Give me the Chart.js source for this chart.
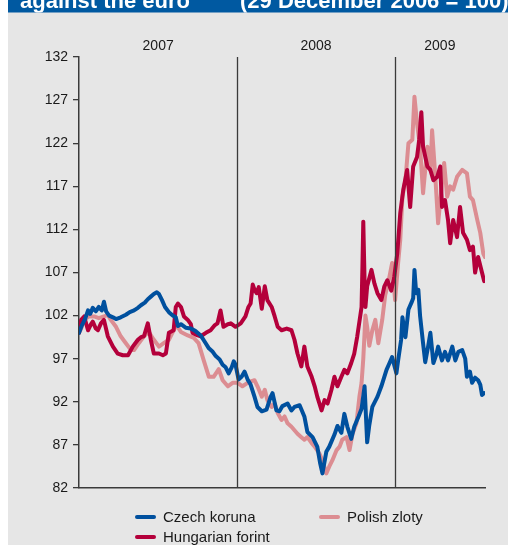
<!DOCTYPE html>
<html>
<head>
<meta charset="utf-8">
<script src="https://cdn.jsdelivr.net/npm/chart.js@4.4.1/dist/chart.umd.min.js"></script>
<style>
    html, body { margin: 0; padding: 0; background: #ffffff; overflow: hidden; }
    #wrap { position: relative; width: 508px; height: 545px; }
</style>
</head>
<body>
<div id="wrap"><canvas id="fxChart"></canvas></div>
<script>
// Exchange rates against the euro, 29 Dec 2006 = 100
// x = days since 29 December 2006
const czkDays = [0, 7, 14, 21, 26, 32, 39, 46, 53, 58, 63, 70, 79, 86, 97, 109, 118, 128, 137, 144, 153, 160, 167, 174, 181, 186, 193, 200, 209, 218, 225, 230, 237, 248, 260, 271, 283, 292, 302, 311, 318, 327, 334, 341, 348, 355, 360, 364, 371, 378, 385, 392, 399, 408, 415, 425, 436, 445, 450, 459, 466, 473, 485, 494, 501, 513, 524, 531, 543, 554, 561, 566, 575, 582, 594, 601, 610, 617, 624, 633, 640, 650, 657, 664, 670, 675, 682, 694, 703, 715, 722, 728, 738, 742, 749, 752, 759, 766, 773, 777, 780, 784, 789, 793, 800, 805, 812, 817, 824, 831, 835, 844, 851, 858, 868, 875, 882, 891, 898, 902, 909, 914, 921, 928, 933, 937, 942];
const czkValues = [100.0, 100.9, 101.6, 102.6, 102.2, 102.9, 102.5, 103.0, 102.6, 103.6, 102.5, 102.0, 101.8, 101.6, 101.8, 102.1, 102.4, 102.6, 102.9, 103.2, 103.5, 103.9, 104.2, 104.5, 104.7, 104.5, 103.8, 103.0, 102.4, 102.0, 101.8, 100.8, 101.0, 100.6, 100.5, 100.2, 99.7, 99.0, 98.2, 97.8, 97.3, 96.9, 96.3, 96.0, 95.3, 96.0, 96.7, 96.3, 94.6, 94.9, 95.5, 94.6, 94.0, 92.6, 91.4, 90.9, 91.1, 92.5, 93.0, 91.0, 90.9, 91.5, 91.8, 91.0, 91.4, 91.6, 90.3, 88.5, 87.9, 86.8, 84.8, 83.7, 86.2, 86.8, 88.2, 89.2, 88.4, 90.6, 89.1, 87.7, 89.1, 90.3, 91.2, 93.8, 87.3, 89.3, 91.4, 92.6, 93.8, 95.7, 96.5, 97.2, 95.3, 96.8, 99.2, 101.8, 99.5, 102.7, 103.5, 104.0, 107.3, 104.6, 105.0, 102.0, 98.8, 96.6, 98.5, 100.0, 96.5, 97.5, 98.4, 96.8, 97.8, 96.8, 98.4, 96.8, 97.8, 98.0, 97.0, 94.9, 95.5, 94.2, 94.8, 94.5, 94.0, 92.8, 93.0];

const hufDays = [0, 5, 12, 21, 28, 32, 39, 44, 51, 58, 67, 74, 79, 90, 102, 114, 125, 137, 144, 151, 160, 167, 174, 186, 195, 202, 209, 220, 225, 230, 237, 244, 253, 260, 264, 276, 283, 295, 306, 316, 322, 329, 336, 346, 353, 364, 376, 387, 394, 399, 404, 408, 413, 418, 425, 432, 438, 448, 455, 462, 471, 483, 494, 501, 508, 517, 524, 531, 541, 548, 554, 564, 571, 578, 587, 594, 601, 610, 617, 624, 633, 640, 647, 657, 659, 661, 664, 666, 670, 680, 687, 694, 703, 710, 717, 726, 733, 740, 747, 754, 763, 770, 777, 786, 791, 796, 800, 810, 817, 824, 833, 840, 844, 851, 858, 863, 870, 879, 886, 893, 902, 909, 916, 921, 928, 937, 942];
const hufValues = [100.0, 101.5, 101.9, 100.3, 101.0, 101.3, 100.5, 100.3, 101.1, 101.5, 99.6, 98.9, 98.4, 97.6, 97.4, 97.4, 98.4, 99.2, 99.5, 99.6, 101.1, 99.2, 97.6, 97.6, 97.4, 97.6, 100.0, 100.3, 103.0, 103.4, 103.0, 101.9, 101.5, 101.0, 100.0, 99.7, 99.6, 100.0, 100.3, 100.9, 101.1, 102.6, 100.7, 101.0, 101.1, 100.7, 101.1, 101.9, 103.0, 103.4, 105.6, 105.0, 104.6, 105.3, 102.8, 105.4, 103.8, 103.0, 101.9, 100.7, 100.3, 100.5, 100.3, 99.2, 97.6, 96.1, 98.4, 96.1, 94.9, 93.8, 92.6, 91.0, 92.2, 91.8, 93.4, 94.9, 93.8, 94.9, 95.7, 95.3, 96.5, 97.6, 99.6, 103.0, 107.7, 112.9, 106.0, 103.0, 105.4, 107.3, 105.7, 104.6, 103.8, 105.4, 106.1, 104.9, 106.5, 109.2, 113.9, 116.6, 118.9, 114.6, 119.3, 120.4, 122.4, 125.6, 121.6, 119.3, 118.9, 117.7, 118.1, 119.3, 114.6, 115.4, 113.1, 110.4, 113.1, 111.1, 114.6, 111.6, 110.8, 109.6, 110.0, 107.0, 108.8, 107.0, 106.0];

const plnDays = [0, 5, 12, 23, 35, 46, 58, 67, 74, 86, 97, 109, 121, 128, 139, 151, 162, 174, 186, 197, 209, 220, 227, 237, 253, 267, 278, 290, 302, 313, 325, 334, 346, 357, 369, 380, 392, 401, 408, 415, 425, 432, 438, 448, 455, 462, 471, 478, 485, 494, 501, 508, 517, 524, 531, 541, 548, 559, 566, 575, 582, 589, 599, 606, 612, 622, 629, 636, 645, 652, 657, 661, 666, 670, 675, 682, 689, 696, 705, 712, 719, 728, 735, 742, 747, 752, 759, 766, 775, 780, 786, 793, 800, 810, 817, 821, 828, 835, 844, 849, 856, 863, 870, 879, 891, 902, 909, 916, 926, 933, 940, 944];
const plnValues = [100.0, 100.5, 101.5, 101.9, 101.9, 101.7, 101.9, 102.1, 101.5, 100.7, 99.6, 98.8, 98.0, 98.0, 98.8, 99.6, 100.1, 99.2, 98.4, 98.8, 99.2, 100.3, 100.9, 100.1, 99.7, 99.4, 98.8, 96.8, 94.9, 94.9, 95.8, 94.5, 93.8, 94.2, 94.2, 93.8, 94.2, 94.4, 94.5, 93.8, 92.6, 93.4, 92.2, 91.4, 91.8, 90.7, 89.9, 90.3, 89.5, 89.1, 88.7, 88.3, 87.9, 87.6, 87.9, 87.2, 86.8, 86.0, 85.2, 83.7, 84.5, 85.2, 86.4, 86.8, 87.6, 87.9, 86.4, 88.3, 89.5, 92.6, 94.2, 97.0, 102.0, 100.7, 98.5, 100.3, 101.5, 98.8, 101.5, 104.4, 105.8, 108.1, 103.8, 108.1, 110.8, 115.8, 117.7, 122.0, 122.4, 127.4, 124.3, 121.6, 116.2, 121.6, 118.9, 123.5, 118.5, 112.7, 117.4, 119.7, 115.8, 117.0, 116.6, 118.1, 118.9, 118.5, 115.8, 115.4, 113.1, 111.6, 109.2, 108.8];

const seriesNames = ['Czech koruna', 'Hungarian forint', 'Polish zloty'];
const seriesColors = ['#00509e', '#b4003b', '#dc8d92'];

const yTicks = [82, 87, 92, 97, 102, 107, 112, 117, 122, 127, 132];
const yearLabels = ['2007', '2008', '2009'];
const yearBounds = [0, 368, 734, 944];   // day offsets: start, 1 Jan 2008, 1 Jan 2009, end

const titleLeft = 'against the euro';
const titleRight = '(29 December 2006 = 100)';

const FONT = '"Liberation Sans", Arial, sans-serif';

function toPoints(days, values) {
    return days.map((d, i) => ({ x: d, y: values[i] }));
}

// 1. Panel background and clipped title band
const backdrop = {
    id: 'backdrop',
    beforeDraw(chart) {
        const ctx = chart.ctx;
        ctx.save();
        ctx.fillStyle = '#ffffff';
        ctx.fillRect(0, 0, chart.width, chart.height);
        ctx.fillStyle = '#e6e6e6';
        ctx.fillRect(8, 0, chart.width - 8, chart.height);
        ctx.fillStyle = '#0059a1';
        ctx.fillRect(8, 0, chart.width - 8, 12.5);

        ctx.beginPath();
        ctx.rect(8, 0, chart.width - 8, 12.5);
        ctx.clip();
        ctx.fillStyle = '#ffffff';
        ctx.font = 'bold 22px ' + FONT;
        ctx.textBaseline = 'alphabetic';
        ctx.fillText(titleLeft, 20, 7.5);
        ctx.fillText(titleRight, 240, 7.5);
        ctx.restore();
    }
};

// 2. Year dividers and year labels
const years = {
    id: 'years',
    afterDatasetsDraw(chart) {
        const ctx = chart.ctx;
        const xs = chart.scales.x;
        const area = chart.chartArea;
        ctx.save();
        ctx.strokeStyle = '#3a3a3a';
        ctx.lineWidth = 1.3;
        for (let i = 1; i < yearBounds.length - 1; i++) {
            const px = Math.round(xs.getPixelForValue(yearBounds[i])) + 0.5;
            ctx.beginPath();
            ctx.moveTo(px, area.top);
            ctx.lineTo(px, area.bottom);
            ctx.stroke();
        }
        ctx.fillStyle = '#1a1a1a';
        ctx.font = '14px ' + FONT;
        ctx.textAlign = 'center';
        ctx.textBaseline = 'middle';
        yearLabels.forEach((lbl, i) => {
            const mid = (yearBounds[i] + yearBounds[i + 1]) / 2;
            ctx.fillText(lbl, xs.getPixelForValue(mid), 46);
        });
        ctx.restore();
    }
};

// 3. Two-column legend under the plot
const legendBox = {
    id: 'legendBox',
    afterDraw(chart) {
        const ctx = chart.ctx;
        const cols = [135, 319];
        const rows = [517, 537];
        ctx.save();
        ctx.font = '15px ' + FONT;
        ctx.textBaseline = 'middle';
        ctx.fillStyle = '#1a1a1a';
        chart.data.datasets.forEach((ds, i) => {
            const x = cols[Math.floor(i / 2)];
            const y = rows[i % 2];
            ctx.strokeStyle = ds.borderColor;
            ctx.lineWidth = 4;
            ctx.lineCap = 'round';
            ctx.beginPath();
            ctx.moveTo(x + 2, y);
            ctx.lineTo(x + 19, y);
            ctx.stroke();
            ctx.fillText(ds.label, x + 28, y + 1);
        });
        ctx.restore();
    }
};

const ctx = document.getElementById('fxChart').getContext('2d');
new Chart(ctx, {
    type: 'line',
    data: {
        datasets: [
            { label: seriesNames[0], data: toPoints(czkDays, czkValues), borderColor: seriesColors[0] },
            { label: seriesNames[1], data: toPoints(hufDays, hufValues), borderColor: seriesColors[1] },
            { label: seriesNames[2], data: toPoints(plnDays, plnValues), borderColor: seriesColors[2] }
        ]
    },
    options: {
        responsive: true,
        maintainAspectRatio: false,
        animation: false,
        datasets: {
            line: {
                borderWidth: 4,
                pointRadius: 0,
                tension: 0,
                borderJoinStyle: 'round',
                borderCapStyle: 'round',
                fill: false
            }
        },
        layout: { padding: { left: 0, top: 57, right: 23, bottom: 57 } },
        plugins: {
            legend: { display: false },
            tooltip: { enabled: false }
        },
        scales: {
            x: {
                type: 'linear',
                min: yearBounds[0],
                max: yearBounds[yearBounds.length - 1],
                grid: { display: false, drawTicks: false },
                border: { display: true, color: '#3a3a3a', width: 1.5 },
                ticks: { display: false },
                afterFit(s) { s.height = 0; }
            },
            y: {
                min: yTicks[0],
                max: yTicks[yTicks.length - 1],
                afterBuildTicks(s) { s.ticks = yTicks.map(v => ({ value: v })); },
                grid: { drawOnChartArea: false, drawTicks: true, tickLength: 6, color: '#3a3a3a', lineWidth: 1.3 },
                border: { display: true, color: '#3a3a3a', width: 1.5 },
                ticks: {
                    color: '#1a1a1a',
                    padding: 5,
                    font: { family: FONT, size: 14 }
                },
                afterFit(s) { s.width = 79; }
            }
        }
    },
    plugins: [backdrop, years, legendBox]
});
</script>
</body>
</html>
